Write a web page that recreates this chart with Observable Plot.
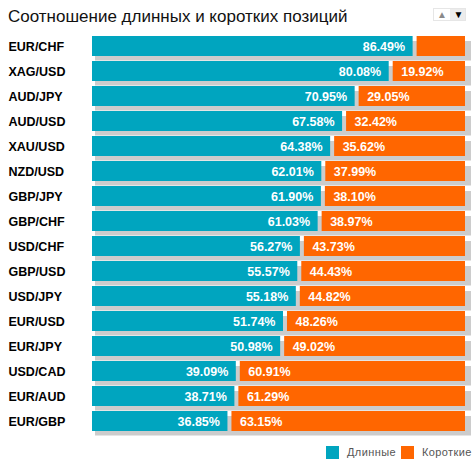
<!DOCTYPE html>
<html>
<head>
<meta charset="utf-8">
<script src="https://cdn.jsdelivr.net/npm/d3@7"></script>
<script src="https://cdn.jsdelivr.net/npm/@observablehq/plot@0.6"></script>
<style>
  body { margin: 0; background: #fff; font-family: "Liberation Sans", Arial, sans-serif; }
  #wrap { position: relative; width: 475px; height: 463px; overflow: hidden; }
  #title { position: absolute; left: 8px; top: 8px; font-size: 17px; line-height: 17px; color: #111; white-space: nowrap; }
  #arrows { position: absolute; left: 433px; top: 8px; width: 33px; height: 13px; background: #ececec; border: 1px solid #e6e6e6; box-sizing: border-box; }
  #arrows .up { position: absolute; left: 0; top: 0; width: 16px; height: 11px; background: #fff; color: #8a8a8a; font-size: 10px; line-height: 11px; text-align: center; }
  #arrows .dn { position: absolute; left: 17px; top: 0; width: 15px; height: 11px; color: #000; font-size: 10px; line-height: 11px; text-align: center; }
  #chart { position: absolute; left: 0; top: 30px; }
  .leg { position: absolute; top: 446px; width: 13px; height: 13px; }
  .legt { position: absolute; top: 445px; font-family: "Liberation Sans", Arial, sans-serif; font-size: 11px; line-height: 14px; color: #555; letter-spacing: 0.4px; }
</style>
</head>
<body>
<div id="wrap">
  <div id="title">Соотношение длинных и коротких позиций</div>
  <div id="arrows"><div class="up">▲</div><div class="dn">▼</div></div>
  <div id="chart"></div>
  <div class="leg" style="left:326px;background:#00a5bf"></div>
  <div class="legt" style="left:347px">Длинные</div>
  <div class="leg" style="left:401px;background:#ff6600"></div>
  <div class="legt" style="left:422px">Короткие</div>
</div>
<script>
const pairs = ["EUR/CHF","XAG/USD","AUD/JPY","AUD/USD","XAU/USD","NZD/USD","GBP/JPY","GBP/CHF","USD/CHF","GBP/USD","USD/JPY","EUR/USD","EUR/JPY","USD/CAD","EUR/AUD","EUR/GBP"];
const longPct = [86.49,80.08,70.95,67.58,64.38,62.01,61.90,61.03,56.27,55.57,55.18,51.74,50.98,39.09,38.71,36.85];
const shortPct = [13.51,19.92,29.05,32.42,35.62,37.99,38.10,38.97,43.73,44.43,44.82,48.26,49.02,60.91,61.29,63.15];

const TEAL = "#00a5bf", ORANGE = "#ff6600", SHADOW = "#cccccc";
const rows = pairs.map((p, i) => ({pair: p, long: longPct[i], short: shortPct[i]}));
const fmt = v => v.toFixed(2) + "%";

const chart = Plot.plot({
  width: 475,
  height: 412,
  marginLeft: 0,
  marginRight: 0,
  marginTop: 6,
  marginBottom: 11,
  x: {domain: [0, 100], range: [92, 465], axis: null},
  y: {domain: pairs, paddingInner: 0.22, paddingOuter: 0, axis: null},
  style: {fontFamily: "'Liberation Sans', Arial, sans-serif", background: "white"},
  marks: [
    Plot.rectX(rows, {y: "pair", x1: 0, x2: 100, fill: SHADOW, dx: 3, dy: 5, insetRight: -3, insetBottom: 0.5}),
    Plot.rectX(rows, {y: "pair", x1: 0, x2: "long", fill: TEAL, insetRight: 2}),
    Plot.rectX(rows, {y: "pair", x1: "long", x2: 100, fill: ORANGE, insetLeft: 2}),
    Plot.text(rows, {y: "pair", x: "long", text: d => fmt(d.long), textAnchor: "end", dx: -10, fill: "white", fontWeight: "bold", fontSize: 12.5}),
    Plot.text(rows.filter(d => d.short >= 15), {y: "pair", x: "long", text: d => fmt(d.short), textAnchor: "start", dx: 10, fill: "white", fontWeight: "bold", fontSize: 12.5}),
    Plot.text(rows, {y: "pair", text: "pair", frameAnchor: "left", dx: 8, textAnchor: "start", fill: "#000", fontWeight: "bold", fontSize: 12.5})
  ]
});
document.getElementById("chart").appendChild(chart);
</script>
</body>
</html>
